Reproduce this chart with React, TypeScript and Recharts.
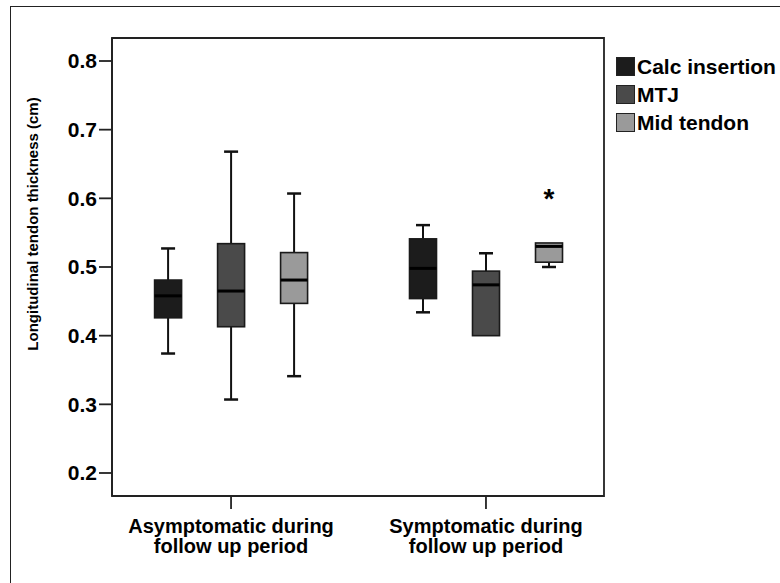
import React from "react";
import {
  ComposedChart,
  Bar,
  XAxis,
  YAxis,
  ReferenceArea,
  Legend,
} from "recharts";

// ---- data ----
const groupLabels: string[][] = [
  ["Asymptomatic during", "follow up period"],
  ["Symptomatic during", "follow up period"],
];
const groupX = [1, 2];
const seriesNames = ["Calc insertion", "MTJ", "Mid tendon"];
// each entry: [min, q1, median, q3, max]
const calcInsertion = [
  [0.374, 0.426, 0.458, 0.481, 0.527],
  [0.434, 0.454, 0.498, 0.541, 0.561],
];
const mtjValues = [
  [0.307, 0.413, 0.465, 0.534, 0.668],
  [0.4, 0.4, 0.474, 0.494, 0.52],
];
const midTendon = [
  [0.341, 0.447, 0.481, 0.521, 0.607],
  [0.5, 0.507, 0.53, 0.535, 0.535],
];
const calcOutliers: number[][] = [[], []];
const mtjOutliers: number[][] = [[], []];
const midOutliers: number[][] = [[], [0.608]];
const yTicks = [0.2, 0.3, 0.4, 0.5, 0.6, 0.7, 0.8];

// ---- styles ----
const FONT = '"Liberation Sans", Arial, Helvetica, sans-serif';
const fills = ["#1c1c1c", "#4a4a4a", "#9a9a9a"];
const Y_DOMAIN: [number, number] = [0.1665, 0.8335];
const X_DOMAIN: [number, number] = [0.533, 2.463];

const rows = groupX.map((gx, i) => ({
  x: gx,
  calc: calcInsertion[i],
  mtj: mtjValues[i],
  mid: midTendon[i],
  calcOut: calcOutliers[i],
  mtjOut: mtjOutliers[i],
  midOut: midOutliers[i],
}));

const makeBoxShape = (statsKey: string, outKey: string, fill: string) => {
  const Shape = (props: any) => {
    const { x, y, width, height, payload } = props;
    const s: number[] = payload[statsKey];
    const outs: number[] = payload[outKey] || [];
    const [mn, q1, med, q3, mx] = s;
    const top = Math.min(y, y + height);
    const bottom = Math.max(y, y + height);
    const yOf = (v: number) =>
      bottom - ((v - mn) / (mx - mn)) * (bottom - top);
    const cx = x + width / 2;
    const bw = 27;
    const cap = 7;
    return (
      <g>
        {mx > q3 && (
          <>
            <line x1={cx} x2={cx} y1={yOf(mx)} y2={yOf(q3)} stroke="#111" strokeWidth={2} />
            <line x1={cx - cap} x2={cx + cap} y1={yOf(mx)} y2={yOf(mx)} stroke="#111" strokeWidth={2.5} />
          </>
        )}
        {mn < q1 && (
          <>
            <line x1={cx} x2={cx} y1={yOf(q1)} y2={yOf(mn)} stroke="#111" strokeWidth={2} />
            <line x1={cx - cap} x2={cx + cap} y1={yOf(mn)} y2={yOf(mn)} stroke="#111" strokeWidth={2.5} />
          </>
        )}
        <rect
          x={cx - bw / 2}
          y={yOf(q3)}
          width={bw}
          height={yOf(q1) - yOf(q3)}
          fill={fill}
          stroke="#1a1a1a"
          strokeWidth={1.6}
        />
        <line x1={cx - bw / 2} x2={cx + bw / 2} y1={yOf(med)} y2={yOf(med)} stroke="#000" strokeWidth={3} />
        {outs.map((o, k) => (
          <text
            key={k}
            x={cx}
            y={yOf(o) + 15}
            textAnchor="middle"
            fontFamily={FONT}
            fontWeight="bold"
            fontSize={28}
            fill="#000"
          >
            *
          </text>
        ))}
      </g>
    );
  };
  return Shape;
};

const XTick = (props: any) => {
  const { x, y, payload } = props;
  const idx = groupX.indexOf(payload.value);
  const lines = idx >= 0 ? groupLabels[idx] : [];
  return (
    <text
      x={x}
      y={y}
      textAnchor="middle"
      fontFamily={FONT}
      fontWeight="bold"
      fontSize={20}
      fill="#000"
    >
      {lines.map((l, k) => (
        <tspan key={k} x={x} y={y + 22 + k * 20}>
          {l}
        </tspan>
      ))}
    </text>
  );
};

const LegendContent = () => (
  <div style={{ fontFamily: FONT, fontWeight: "bold", fontSize: 21, color: "#000" }}>
    {seriesNames.map((n, i) => (
      <div key={n} style={{ display: "flex", alignItems: "center", height: 28 }}>
        <div
          style={{
            width: 17,
            height: 17,
            background: fills[i],
            border: "1.5px solid #222",
            marginRight: 2,
          }}
        />
        <span style={{ lineHeight: "21px" }}>{n}</span>
      </div>
    ))}
  </div>
);

export default function App() {
  return (
    <div
      style={{
        position: "absolute",
        left: 0,
        top: 0,
        width: 780,
        height: 583,
        overflow: "hidden",
        background: "#fff",
      }}
    >
      <div
        style={{
          position: "absolute",
          left: 10,
          top: 6,
          width: 820,
          height: 640,
          border: "1.5px solid #222",
        }}
      />
      <div style={{ position: "absolute", left: 0, top: 0 }}>
        <ComposedChart
          width={780}
          height={583}
          data={rows}
          margin={{ top: 38, right: 176, bottom: 0, left: 0 }}
          barGap={0}
        >
          <XAxis
            type="number"
            dataKey="x"
            domain={X_DOMAIN}
            allowDataOverflow
            ticks={groupX}
            interval={0}
            height={87}
            tickSize={13}
            tickMargin={2}
            axisLine={{ stroke: "#222", strokeWidth: 1.8 }}
            tickLine={{ stroke: "#222", strokeWidth: 1.8 }}
            tick={<XTick />}
          />
          <YAxis
            type="number"
            domain={Y_DOMAIN}
            allowDataOverflow
            ticks={yTicks}
            interval={0}
            width={112}
            tickSize={13}
            tickMargin={2}
            tickFormatter={(v: number) => v.toFixed(1)}
            axisLine={{ stroke: "#222", strokeWidth: 1.8 }}
            tickLine={{ stroke: "#222", strokeWidth: 1.8 }}
            tick={{ fontFamily: FONT, fontWeight: "bold", fontSize: 21, fill: "#000" }}
            label={{
              content: () => (
                <text
                  x={32}
                  y={224}
                  transform="rotate(-90 32 224)"
                  textAnchor="middle"
                  dominantBaseline="central"
                  fontFamily={FONT}
                  fontWeight="bold"
                  fontSize={15}
                  fill="#000"
                >
                  Longitudinal tendon thickness (cm)
                </text>
              ),
            }}
          />
          <ReferenceArea
            x1={X_DOMAIN[0]}
            x2={X_DOMAIN[1]}
            y1={Y_DOMAIN[0]}
            y2={Y_DOMAIN[1]}
            fill="none"
            stroke="#222"
            strokeWidth={1.8}
            ifOverflow="visible"
          />
          <Bar
            name={seriesNames[0]}
            dataKey={(d: any) => [d.calc[0], d.calc[4]]}
            barSize={63}
            fill={fills[0]}
            shape={makeBoxShape("calc", "calcOut", fills[0])}
            isAnimationActive={false}
          />
          <Bar
            name={seriesNames[1]}
            dataKey={(d: any) => [d.mtj[0], d.mtj[4]]}
            barSize={63}
            fill={fills[1]}
            shape={makeBoxShape("mtj", "mtjOut", fills[1])}
            isAnimationActive={false}
          />
          <Bar
            name={seriesNames[2]}
            dataKey={(d: any) => [d.mid[0], d.mid[4]]}
            barSize={63}
            fill={fills[2]}
            shape={makeBoxShape("mid", "midOut", fills[2])}
            isAnimationActive={false}
          />
          <Legend
            layout="horizontal"
            verticalAlign="middle"
            align="center"
            width={170}
            content={<LegendContent />}
            wrapperStyle={{ position: "absolute", left: 616, top: 52, width: 170, bottom: "auto", right: "auto" }}
          />
        </ComposedChart>
      </div>
    </div>
  );
}
